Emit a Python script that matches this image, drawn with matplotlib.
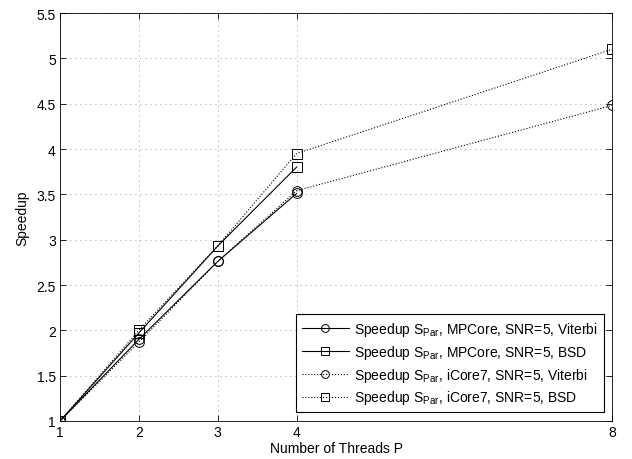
import matplotlib
matplotlib.use("Agg")
import matplotlib.pyplot as plt

plt.rcParams['font.family'] = ['Liberation Sans', 'DejaVu Sans']
plt.rcParams['mathtext.fontset'] = 'custom'
plt.rcParams['mathtext.rm'] = 'Liberation Sans'
plt.rcParams['mathtext.it'] = 'Liberation Sans'

# ---- data ----
threads_mp = [1, 2, 3, 4]
threads_i7 = [1, 2, 3, 4, 8]
mp_viterbi = [1.0, 1.90, 2.76, 3.51]
mp_bsd = [1.0, 1.97, 2.93, 3.80]
i7_viterbi = [1.0, 1.87, 2.76, 3.54, 4.48]
i7_bsd = [1.0, 2.00, 2.93, 3.95, 5.10]

xticks = [1, 2, 3, 4, 8]
yticks = [1, 1.5, 2, 2.5, 3, 3.5, 4, 4.5, 5, 5.5]
labels = [r'Speedup S$_{\mathrm{Par}}$, MPCore, SNR=5, Viterbi',
          r'Speedup S$_{\mathrm{Par}}$, MPCore, SNR=5, BSD',
          r'Speedup S$_{\mathrm{Par}}$, iCore7, SNR=5, Viterbi',
          r'Speedup S$_{\mathrm{Par}}$, iCore7, SNR=5, BSD']

fig = plt.figure(figsize=(6.32, 4.60), dpi=100)
ax = fig.add_axes([60 / 632, 38 / 460, 552 / 632, 408 / 460])

ms = 7
ax.plot(threads_mp, mp_viterbi, '-', color='k', lw=0.8, marker='o', ms=ms,
        mfc='none', mew=0.7, label=labels[0])
ax.plot(threads_mp, mp_bsd, '-', color='k', lw=0.8, marker='s', ms=ms - 0.5,
        mfc='none', mew=0.7, label=labels[1])
ax.plot(threads_i7, i7_viterbi, ':', color='k', lw=0.8, marker='o', ms=ms,
        mfc='none', mew=0.7, label=labels[2])
ax.plot(threads_i7, i7_bsd, ':', color='k', lw=0.8, marker='s', ms=ms - 0.5,
        mfc='none', mew=0.7, label=labels[3])

ax.set_xlim(1, 8)
ax.set_ylim(1, 5.5)
ax.set_xticks(xticks)
ax.set_xticklabels([str(t) for t in xticks])
ax.set_yticks(yticks)
ax.set_yticklabels(['%g' % t for t in yticks])
ax.tick_params(direction='in', top=True, right=True, labelsize=10, length=4,
               width=0.6, pad=3)
for s in ax.spines.values():
    s.set_linewidth(0.6)
ax.grid(True, linestyle=(0, (1, 5)), color='0.45', linewidth=0.6)

ax.set_xlabel('Number of Threads P', fontsize=10, labelpad=1)
ax.set_ylabel('Speedup', fontsize=10, labelpad=5)

leg = ax.legend(loc='lower right', bbox_to_anchor=(0.985, 0.022), fontsize=10,
                numpoints=1, handlelength=3.4, fancybox=False, framealpha=1,
                edgecolor='k', borderpad=0.4, labelspacing=0.35,
                handletextpad=0.4, borderaxespad=0, markerscale=0.8)
leg.get_frame().set_linewidth(0.8)

fig.savefig('out.png', dpi=100)
